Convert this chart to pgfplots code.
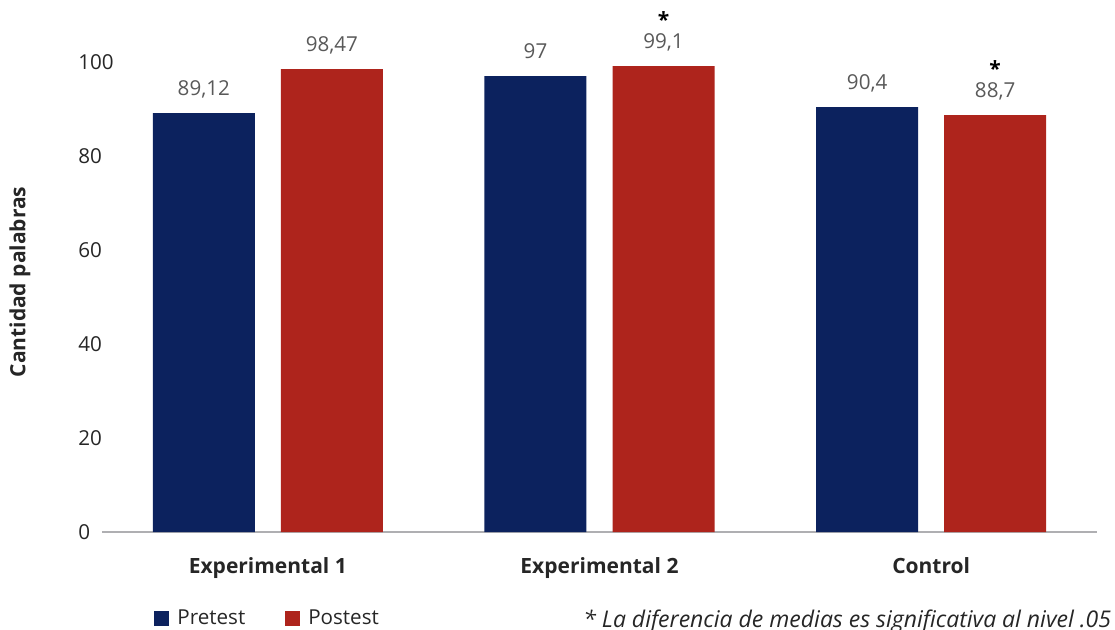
\documentclass[border=0pt]{standalone}
\usepackage{fontspec}
\setmainfont{Open Sans}
\usepackage{pgfplots}
\usepackage{pgfplotstable}
\pgfplotsset{compat=1.18}
\definecolor{navy}{RGB}{12,34,94}
\definecolor{brick}{RGB}{174,36,28}
\definecolor{valgray}{RGB}{89,89,89}
\definecolor{tickdark}{RGB}{38,38,38}
\definecolor{axgray}{RGB}{175,175,178}
\newcommand\fs{\fontsize{10.3pt}{12pt}\selectfont}
\newcommand\fb{\fontsize{10.5pt}{12pt}\selectfont\bfseries}

\pgfplotstableread{
x y lab
0 89.12 {89,12}
1 97 {97}
2 90.4 {90,4}
}\pre
\pgfplotstableread{
x y lab
0 98.47 {98,47}
1 99.1 {99,1}
2 88.7 {88,7}
}\post
\pgfplotstableread{
x y lab
1 99.1 *
2 88.7 *
}\stars

\begin{document}
\begin{tikzpicture}
\path[use as bounding box] (-51pt,-48.5pt) rectangle (506.5pt,266pt);
\begin{axis}[
  scale only axis, width=497.5pt, height=258.5pt,
  at={(0,0)}, anchor=south west,
  xmin=-0.5, xmax=2.5, ymin=0, ymax=110,
  ybar, bar width=51pt,
  axis x line*=bottom, axis y line*=left,
  y axis line style={draw=none},
  x axis line style={axgray, line width=1.3pt, -},
  major tick length=0pt,
  ytick={0,20,40,60,80,100},
  xtick={0,1,2},
  xticklabels={Experimental 1, Experimental 2, Control},
  yticklabel style={anchor=west, inner sep=0pt, xshift=-12pt, font=\fs, text=tickdark},
  xticklabel style={anchor=base, inner sep=0pt, yshift=-20.5pt, font=\fb, text=tickdark},
  /pgf/number format/assume math mode=true,
  point meta=explicit symbolic,
  every node near coord/.append style={anchor=base, inner sep=0pt, yshift=9pt, font=\fs, text=valgray},
  legend columns=2,
  legend image code/.code={\fill[#1,draw=none] (0pt,-4pt) rectangle (7.5pt,3.5pt);},
  legend style={draw=none, fill=none, inner sep=0pt,
    at={(0,0)}, anchor=north west, xshift=26pt, yshift=-38.5pt,
    font=\fs, text=tickdark,
    nodes={inner sep=0pt},
    /tikz/every odd column/.append style={column sep=4pt},
    /tikz/every even column/.append style={column sep=20pt}},
  clip=false,
]
\addplot[fill=navy, draw=none, bar shift=-32pt, nodes near coords] table[x=x, y=y, meta=lab] {\pre};
\addlegendentry{Pretest}
\addplot[fill=brick, draw=none, bar shift=32pt, nodes near coords] table[x=x, y=y, meta=lab] {\post};
\addlegendentry{Postest}
\addplot[fill=none, draw=none, bar shift=32pt, forget plot, nodes near coords,
  every node near coord/.append style={yshift=10.5pt, font=\fb, text=black}] table[x=x, y=y, meta=lab] {\stars};
\end{axis}
\node[rotate=90, font=\fb, text=tickdark] at (-41pt,125pt) {Cantidad palabras};
\node[anchor=base west, inner sep=0pt, font=\fontsize{11.5pt}{13pt}\selectfont\itshape, text=tickdark] at (240.5pt,-47.5pt) {* La diferencia de medias es significativa al nivel .05};
\end{tikzpicture}
\end{document}
